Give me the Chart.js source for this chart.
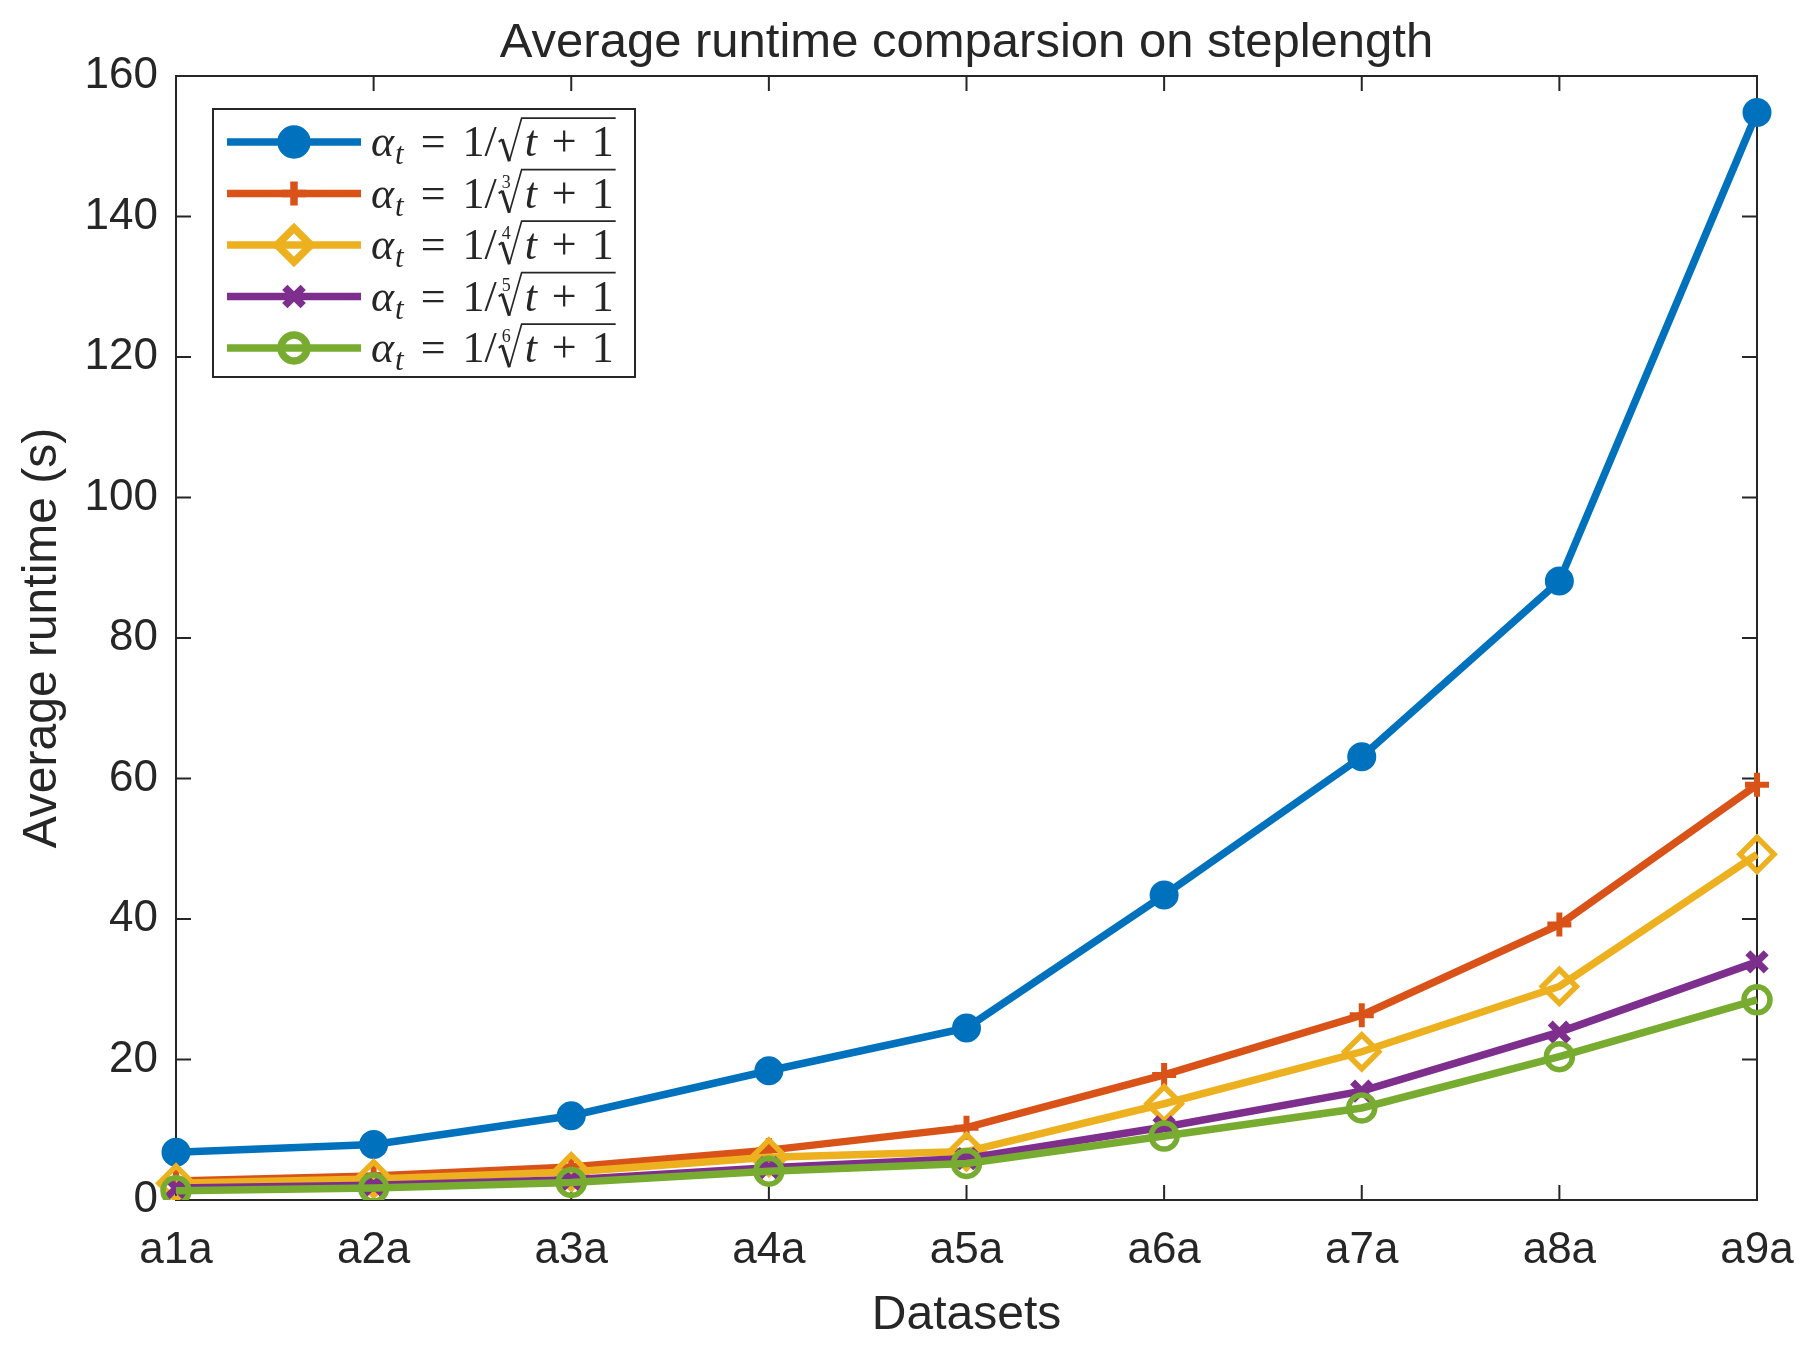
<!DOCTYPE html>
<html>
<head>
<meta charset="utf-8">
<script src="https://cdn.jsdelivr.net/npm/chart.js@4.4.1/dist/chart.umd.min.js"></script>
<style>
  body { margin: 0; background: #fff; }
  #wrap { width: 1804px; height: 1361px; }
</style>
</head>
<body>
<div id="wrap"><canvas id="runtimeChart" width="1804" height="1361"></canvas></div>
<script>
const categories = ['a1a', 'a2a', 'a3a', 'a4a', 'a5a', 'a6a', 'a7a', 'a8a', 'a9a'];

// runtime (s) for each steplength rule, alpha_t = 1 / (t+1)^(1/k)
const root2 = [6.8, 7.9, 12.0, 18.4, 24.5, 43.4, 63.1, 88.1, 154.8];
const root3 = [2.7, 3.4, 4.7, 7.1, 10.3, 17.8, 26.3, 39.2, 59.1];
const root4 = [2.4, 3.0, 4.0, 6.1, 6.9, 13.7, 21.1, 30.4, 49.2];
const root5 = [1.7, 2.1, 2.9, 4.6, 5.9, 10.4, 15.5, 23.9, 33.9];
const root6 = [1.3, 1.7, 2.5, 4.1, 5.2, 9.1, 13.1, 20.4, 28.5];

const rootIndex = ['', '3', '4', '5', '6'];
const yTicks = [0, 20, 40, 60, 80, 100, 120, 140, 160];
const chartTitle = 'Average runtime comparsion on steplength';

const colors = ['#0072BD', '#D95319', '#EDB120', '#7E2F8E', '#77AC30'];
const ink = '#262626';

function series(i, data, style, radius, bw, filled) {
  return {
    label: 'αt = 1/' + (rootIndex[i] ? rootIndex[i] + '√' : '√') + '(t+1)',
    data: data,
    borderColor: colors[i],
    backgroundColor: colors[i],
    borderWidth: 7.5,
    pointStyle: style,
    pointRadius: radius,
    pointBorderWidth: bw,
    pointBackgroundColor: filled ? colors[i] : 'rgba(0,0,0,0)',
    pointBorderColor: colors[i],
    order: 4 - i,
    tension: 0
  };
}

// box + inward ticks like matlab, title centred over the axes
const frame = {
  id: 'frame',
  beforeDatasetsDraw(chart) {
    const { ctx, chartArea: a, scales } = chart;
    ctx.save();
    ctx.strokeStyle = ink;
    ctx.lineWidth = 2;
    ctx.strokeRect(a.left, a.top, a.right - a.left, a.bottom - a.top);
    const tl = 15;
    ctx.beginPath();
    scales.x.ticks.forEach((t, i) => {
      const px = scales.x.getPixelForTick(i);
      ctx.moveTo(px, a.bottom); ctx.lineTo(px, a.bottom - tl);
      ctx.moveTo(px, a.top); ctx.lineTo(px, a.top + tl);
    });
    scales.y.ticks.forEach((t, i) => {
      const py = scales.y.getPixelForTick(i);
      ctx.moveTo(a.left, py); ctx.lineTo(a.left + tl, py);
      ctx.moveTo(a.right, py); ctx.lineTo(a.right - tl, py);
    });
    ctx.stroke();
    ctx.fillStyle = ink;
    ctx.font = '49px "Liberation Sans"';
    ctx.textAlign = 'center';
    ctx.textBaseline = 'middle';
    ctx.fillText(chartTitle, (a.left + a.right) / 2, 43);
    ctx.restore();
  }
};

function drawFormula(ctx, x, y, idx) {
  const fs = 44;
  ctx.fillStyle = ink;
  ctx.textBaseline = 'alphabetic';
  ctx.textAlign = 'left';
  ctx.font = 'italic ' + fs + 'px "Liberation Serif"';
  ctx.fillText('α', x, y);
  x += ctx.measureText('α').width + 1;
  ctx.font = 'italic ' + Math.round(fs * 0.7) + 'px "Liberation Serif"';
  ctx.fillText('t', x, y + 8);
  x += ctx.measureText('t').width + 17;
  ctx.font = fs + 'px "Liberation Serif"';
  ctx.fillText('=', x, y);
  x += ctx.measureText('=').width + 17;
  ctx.fillText('1/', x, y);
  x += ctx.measureText('1/').width + 2;
  // radical sign
  const top = y - fs * 0.86;
  ctx.strokeStyle = ink;
  ctx.beginPath();
  ctx.lineWidth = 2;
  ctx.moveTo(x, y - fs * 0.32);
  ctx.lineTo(x + fs * 0.08, y - fs * 0.38);
  ctx.stroke();
  ctx.beginPath();
  ctx.lineWidth = 3;
  ctx.moveTo(x + fs * 0.08, y - fs * 0.38);
  ctx.lineTo(x + fs * 0.24, y + fs * 0.12);
  ctx.stroke();
  ctx.beginPath();
  ctx.lineWidth = 1.6;
  ctx.moveTo(x + fs * 0.24, y + fs * 0.12);
  ctx.lineTo(x + fs * 0.52, top);
  if (idx) {
    ctx.save();
    ctx.font = Math.round(fs * 0.42) + 'px "Liberation Serif"';
    ctx.fillText(idx, x + fs * 0.07, y - fs * 0.45);
    ctx.restore();
  }
  x += fs * 0.52 + 3;
  ctx.font = 'italic ' + fs + 'px "Liberation Serif"';
  ctx.fillText('t', x, y);
  x += ctx.measureText('t').width + 15;
  ctx.font = fs + 'px "Liberation Serif"';
  ctx.fillText('+', x, y);
  x += ctx.measureText('+').width + 15;
  ctx.fillText('1', x, y);
  x += ctx.measureText('1').width + 2;
  ctx.lineTo(x, top);
  ctx.stroke();
}

const boxLegend = {
  id: 'boxLegend',
  afterDraw(chart) {
    const { ctx } = chart;
    const bx = 213, by = 109, bw = 422, bh = 268;
    ctx.save();
    ctx.fillStyle = '#fff';
    ctx.fillRect(bx, by, bw, bh);
    ctx.strokeStyle = ink;
    ctx.lineWidth = 2;
    ctx.strokeRect(bx, by, bw, bh);
    chart.data.datasets.forEach((ds, i) => {
      const cy = by + 33 + i * 51.5;
      ctx.strokeStyle = ds.borderColor;
      ctx.lineWidth = ds.borderWidth;
      ctx.beginPath();
      ctx.moveTo(bx + 14, cy);
      ctx.lineTo(bx + 148, cy);
      ctx.stroke();
      ctx.fillStyle = ds.pointBackgroundColor;
      Chart.helpers.drawPoint(ctx, {
        pointStyle: ds.pointStyle,
        radius: ds.pointRadius,
        borderWidth: ds.pointBorderWidth,
        rotation: 0
      }, bx + 81, cy);
      drawFormula(ctx, bx + 158, cy + 14, rootIndex[i]);
    });
    ctx.restore();
  }
};

new Chart(document.getElementById('runtimeChart').getContext('2d'), {
  type: 'line',
  data: {
    labels: categories,
    datasets: [
      series(0, root2, 'circle', 13, 3, true),
      series(1, root3, 'cross', 12, 6, false),
      series(2, root4, 'rectRot', 17, 5.5, false),
      series(3, root5, 'crossRot', 13, 7, false),
      series(4, root6, 'circle', 13, 5.5, false)
    ]
  },
  options: {
    responsive: false,
    animation: false,
    devicePixelRatio: 1,
    layout: { padding: { left: 0, right: 47, top: 76, bottom: 0 } },
    plugins: {
      legend: { display: false },
      tooltip: { enabled: false },
      title: { display: false }
    },
    scales: {
      x: {
        offset: false,
        grid: { display: false, drawTicks: false },
        border: { display: false },
        ticks: { color: ink, padding: 24, font: { family: '"Liberation Sans"', size: 44 } },
        title: {
          display: true, text: 'Datasets', color: ink,
          font: { family: '"Liberation Sans"', size: 48 },
          padding: { top: 0, bottom: 16 }
        },
        afterFit(s) { s.height = 161; s.paddingRight = 0; s.paddingLeft = 0; }
      },
      y: {
        min: 0, max: 160,
        afterBuildTicks(s) { s.ticks = yTicks.map(v => ({ value: v })); },
        grid: { display: false, drawTicks: false },
        border: { display: false },
        ticks: { color: ink, padding: 18, font: { family: '"Liberation Sans"', size: 44 } },
        title: {
          display: true, text: 'Average runtime (s)', color: ink,
          font: { family: '"Liberation Sans"', size: 48 },
          padding: { top: 14, bottom: 0 }
        },
        afterFit(s) { s.width = 176; s.paddingTop = 0; s.paddingBottom = 0; }
      }
    }
  },
  plugins: [frame, boxLegend]
});
</script>
</body>
</html>
